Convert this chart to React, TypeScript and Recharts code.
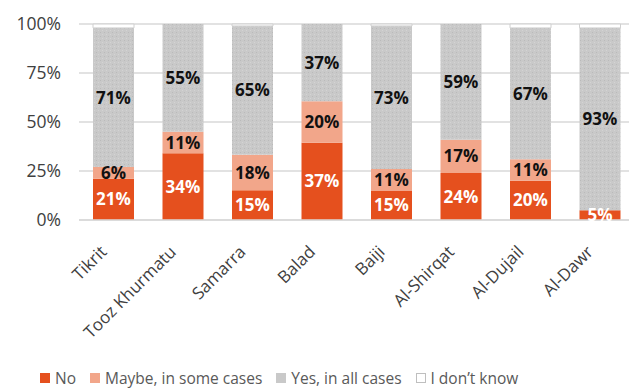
import { BarChart, Bar, XAxis, YAxis, CartesianGrid, LabelList, Legend } from "recharts";

const districts = ["Tikrit", "Tooz Khurmatu", "Samarra", "Balad", "Baiji", "Al-Shirqat", "Al-Dujail", "Al-Dawr"];
const no = [21, 34, 15, 37, 15, 24, 20, 5];
const maybe = [6, 11, 18, 20, 11, 17, 11, 0];
const yes = [71, 55, 65, 37, 73, 59, 67, 93];
const dontKnow = [2, 0, 1, 0, 1, 0, 2, 2];
const yTicks = [0, 0.25, 0.5, 0.75, 1];

const data = districts.map((name, i) => ({
  name,
  no: no[i],
  maybe: maybe[i],
  yes: yes[i],
  dontKnow: dontKnow[i],
}));

const FONT = "'Open Sans', 'Noto Sans', sans-serif";
const ORANGE = "#E5501E";
const PEACH = "#F2A68A";
const GREY = "#C9C9C9";

const legendItems = [
  { label: "No", fill: ORANGE, border: ORANGE },
  { label: "Maybe, in some cases", fill: PEACH, border: PEACH },
  { label: "Yes, in all cases", fill: GREY, border: GREY },
  { label: "I don\u2019t know", fill: "#fff", border: "#BFBFBF" },
];

const pct = (v: number) => (v ? `${v}%` : "");

function XTick({ x, y, payload }: any) {
  const ax = x - 6;
  const ay = y + 25;
  return (
    <text
      x={ax}
      y={ay}
      transform={`rotate(-45, ${ax}, ${ay})`}
      textAnchor="end"
      fontSize={17}
      fill="#404040"
      fontFamily={FONT}
    >
      {payload.value}
    </text>
  );
}

function ChartLegend() {
  return (
    <div style={{ display: "flex", fontFamily: FONT, fontSize: 15.5, color: "#595959", paddingLeft: 40 }}>
      {legendItems.map((it) => (
        <div key={it.label} style={{ display: "flex", alignItems: "center", marginRight: 14 }}>
          <span
            style={{
              width: 8,
              height: 8,
              background: it.fill,
              border: `1px solid ${it.border}`,
              marginRight: 5,
              display: "inline-block",
            }}
          />
          {it.label}
        </div>
      ))}
    </div>
  );
}

export default function App() {
  return (
    <div style={{ position: "absolute", left: 0, top: 0, width: 629, height: 390, overflow: "hidden", background: "#fff" }}>
      <BarChart
        width={640}
        height={390}
        data={data}
        stackOffset="expand"
        barSize={41}
        margin={{ top: 24, right: 5, bottom: 0, left: 0 }}
      >
        <defs>
          <pattern id="dots" width="4" height="4" patternUnits="userSpaceOnUse">
            <rect width="4" height="4" fill={GREY} />
            <rect x="0" y="0" width="1" height="1" fill="#BABABA" />
            <rect x="2" y="2" width="1" height="1" fill="#D4D4D4" />
          </pattern>
        </defs>
        <CartesianGrid stroke="#D9D9D9" strokeWidth={1.5} vertical={false} />
        <XAxis
          dataKey="name"
          interval={0}
          tick={<XTick />}
          tickLine={false}
          axisLine={{ stroke: "#D9D9D9", strokeWidth: 1.5 }}
          height={148}
        />
        <YAxis
          ticks={yTicks}
          domain={[0, 1]}
          tickFormatter={(v: number) => `${Math.round(v * 100)}%`}
          tick={{ fontSize: 17.5, fill: "#404040", fontFamily: FONT, dx: -10 }}
          tickLine={false}
          axisLine={false}
          width={79}
        />
        <Bar dataKey="no" stackId="a" fill={ORANGE} isAnimationActive={false}>
          <LabelList dataKey="no" position="center" formatter={pct} fill="#fff" fontSize={17} fontWeight="bold" fontFamily={FONT} />
        </Bar>
        <Bar dataKey="maybe" stackId="a" fill={PEACH} isAnimationActive={false}>
          <LabelList dataKey="maybe" position="center" formatter={pct} fill="#111" fontSize={17} fontWeight="bold" fontFamily={FONT} />
        </Bar>
        <Bar dataKey="yes" stackId="a" fill="url(#dots)" isAnimationActive={false}>
          <LabelList dataKey="yes" position="center" formatter={pct} fill="#111" fontSize={17} fontWeight="bold" fontFamily={FONT} />
        </Bar>
        <Bar dataKey="dontKnow" stackId="a" fill="#fff" stroke="#D0D0D0" strokeWidth={1} isAnimationActive={false} />
        <Legend content={<ChartLegend />} verticalAlign="bottom" wrapperStyle={{ bottom: 1, left: 0 }} />
      </BarChart>
    </div>
  );
}
